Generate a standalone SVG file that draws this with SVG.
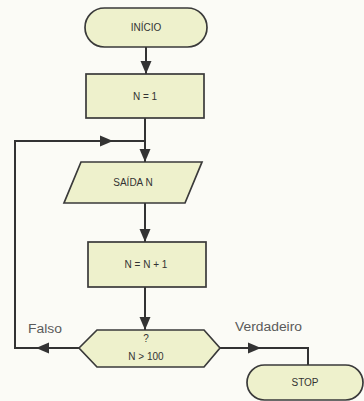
<svg xmlns="http://www.w3.org/2000/svg" xmlns:xlink="http://www.w3.org/1999/xlink" width="364" height="401" viewBox="0 0 364 401">
<style>
.node{fill:#eef1cc;stroke:#3a3a3a;stroke-width:1.7}
.lbl{font-family:"Liberation Sans",Arial,sans-serif;font-size:10px;fill:#333;text-anchor:middle}
.edge{fill:none;stroke:#333;stroke-width:2}
.side{font-family:"Liberation Sans",Arial,sans-serif;font-size:12px;fill:#5a5a5a}
</style>
<defs>
<path id="ah" d="M0,0 L-13,-5.5 L-13,5.5 Z" fill="#333"/>
</defs>
<rect width="364" height="401" fill="#fbfbf6"/>
<g id="connectors">
<path class="edge" d="M146,47 V74"/>
<use xlink:href="#ah" transform="translate(146,74) rotate(90)"/>
<path class="edge" d="M145,118 V162"/>
<use xlink:href="#ah" transform="translate(145,162) rotate(90)"/>
<path class="edge" d="M79,348 H15 V141 H145"/>
<use xlink:href="#ah" transform="translate(36,348) rotate(180)"/>
<use xlink:href="#ah" transform="translate(113,141)"/>
<path class="edge" d="M145,203 V242"/>
<use xlink:href="#ah" transform="translate(145,242) rotate(90)"/>
<path class="edge" d="M145,287 V330"/>
<use xlink:href="#ah" transform="translate(145,330) rotate(90)"/>
<path class="edge" d="M220,348 H308 V365"/>
<use xlink:href="#ah" transform="translate(261,348)"/>
<text class="side" x="28" y="333" textLength="34" lengthAdjust="spacingAndGlyphs">Falso</text>
<text class="side" x="235" y="331" textLength="67" lengthAdjust="spacingAndGlyphs">Verdadeiro</text>
</g>
<g id="inicio">
<rect class="node" x="85" y="8" width="122" height="39" rx="19.5"/>
<text class="lbl" x="146" y="31">INÍCIO</text>
</g>
<g id="n1">
<rect class="node" x="86" y="74" width="118" height="44"/>
<text class="lbl" x="145" y="100">N = 1</text>
</g>
<g id="saida">
<polygon class="node" points="81,162 202,162 185,203 64,203"/>
<text class="lbl" x="133" y="186">SAÍDA N</text>
</g>
<g id="incr">
<rect class="node" x="88" y="242" width="118" height="45"/>
<text class="lbl" x="146" y="268">N = N + 1</text>
</g>
<g id="decisao">
<polygon class="node" points="79,348 97,330 204,330 220,348 204,367 97,367"/>
<text class="lbl" x="146" y="342">?</text>
<text class="lbl" x="146" y="360">N &gt; 100</text>
</g>
<g id="stop">
<rect class="node" x="247" y="365" width="116" height="35" rx="17.5"/>
<text class="lbl" x="305" y="386">STOP</text>
</g>
</svg>
